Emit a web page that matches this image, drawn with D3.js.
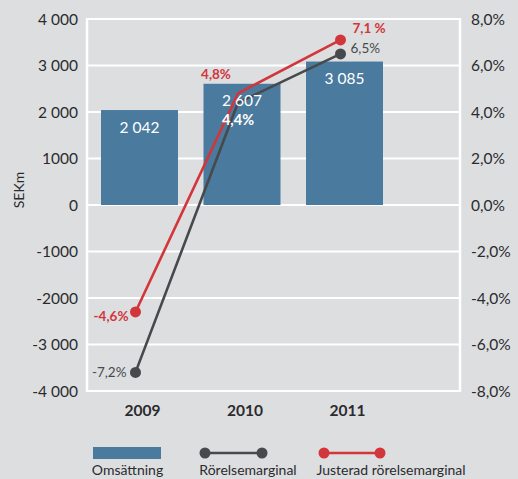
<!DOCTYPE html>
<html><head><meta charset="utf-8">
<script src="https://cdn.jsdelivr.net/npm/d3@7"></script>
<style>
html,body{margin:0;padding:0;background:#dddee0;}
svg{display:block;font-family:Lato, "Open Sans", sans-serif;}
</style></head>
<body>
<svg id="c" width="518" height="479"></svg>
<script>
const years = ["2009","2010","2011"];
const omsattning = [2042, 2607, 3085];
const omsLabels = ["2 042","2 607","3 085"];
const rorelse = [-7.2, 4.4, 6.5];
const rorelseLabels = ["-7,2%","4,4%","6,5%"];
const justerad = [-4.6, 4.8, 7.1];
const justeradLabels = ["-4,6%","4,8%","7,1 %"];
const leftTicks = [4000,3000,2000,1000,0,-1000,-2000,-3000,-4000];
const leftTickLabels = ["4 000","3 000","2 000","1000","0","-1000","-2000","-3 000","-4 000"];
const rightTicks = [8,6,4,2,0,-2,-4,-6,-8];
const rightTickLabels = ["8,0%","6,0%","4,0%","2,0%","0,0%","-2,0%","-4,0%","-6,0%","-8,0%"];
const legendItems = ["Omsättning","Rörelsemarginal","Justerad rörelsemarginal"];

const blue="#4a7a9e", gray="#48494d", red="#d2363b", txt="#2b2b2e";
const svg=d3.select("#c");
const L=87,R=460,T=19,B=391;
const y=d3.scaleLinear().domain([-4000,4000]).range([B,T]);
const y2=d3.scaleLinear().domain([-8,8]).range([B,T]);
const x=d3.scaleBand().domain(years).range([L,397]).paddingInner(0.249).paddingOuter(0.1366);
const cx=d=>x(d)+x.bandwidth()/2;

// grid
const g=svg.append("g");
g.selectAll("line.h").data(leftTicks).join("line")
 .attr("x1",L).attr("x2",R).attr("y1",d=>y(d)).attr("y2",d=>y(d))
 .attr("stroke","#fff").attr("stroke-width",2.2);
g.append("line").attr("x1",L).attr("x2",L).attr("y1",T-1).attr("y2",B+1).attr("stroke","#fff").attr("stroke-width",2.5);
g.append("line").attr("x1",R).attr("x2",R).attr("y1",T-1).attr("y2",B+1).attr("stroke","#fff").attr("stroke-width",2.5);

// axis labels
svg.append("g").selectAll("text").data(leftTicks).join("text")
 .attr("x",78).attr("y",d=>y(d)).attr("dy","0.36em").attr("text-anchor","end")
 .attr("font-size",15.5).attr("fill",txt).text((d,i)=>leftTickLabels[i]);
svg.append("g").selectAll("text").data(rightTicks).join("text")
 .attr("x",471).attr("y",d=>y2(d)).attr("dy","0.36em").attr("text-anchor","start")
 .attr("font-size",15.5).attr("fill",txt).text((d,i)=>rightTickLabels[i]);
svg.append("text").attr("transform","translate(24,"+190+") rotate(-90)")
 .attr("text-anchor","middle").attr("font-size",14).attr("fill",txt).text("SEKm");

// bars
svg.append("g").selectAll("rect").data(omsattning).join("rect")
 .attr("x",(d,i)=>x(years[i])).attr("width",x.bandwidth())
 .attr("y",d=>y(d)).attr("height",d=>y(0)-y(d)).attr("fill",blue);

// x labels
svg.append("g").selectAll("text").data(years).join("text")
 .attr("x",d=>cx(d)+3).attr("y",410).attr("dy","0.36em").attr("text-anchor","middle")
 .attr("font-size",15.5).attr("font-weight","bold").attr("fill",txt).text(d=>d);

// lines
const line=d3.line().x((d,i)=>cx(years[i])-4).y(d=>y2(d));
function series(vals,col){
  svg.append("path").datum(vals).attr("d",line).attr("fill","none").attr("stroke",col).attr("stroke-width",2.6);
  svg.append("g").selectAll("circle").data(vals.map((v,i)=>({v,i})).filter(o=>o.i!==1)).join("circle")
   .attr("cx",o=>cx(years[o.i])-4).attr("cy",o=>y2(o.v)).attr("r",5.5).attr("fill",col);
}
series(rorelse,gray);
series(justerad,red);

// bar labels on top
svg.append("g").selectAll("text").data(omsattning).join("text")
 .attr("x",(d,i)=>cx(years[i])).attr("y",d=>y(d)+17).attr("dy","0.36em")
 .attr("text-anchor","middle").attr("font-size",15.5).attr("fill","#fff").text((d,i)=>omsLabels[i]);

// line labels
const fs=13.5;
svg.append("text").attr("x",cx(years[0])-13).attr("y",y2(rorelse[0])).attr("dy","0.36em").attr("text-anchor","end").attr("font-size",fs).attr("fill",gray).text(rorelseLabels[0]);
svg.append("text").attr("x",cx(years[1])-4).attr("y",y2(rorelse[1])+17).attr("dy","0.36em").attr("text-anchor","middle").attr("font-size",fs+1).attr("font-weight","bold").attr("fill","#fff").text(rorelseLabels[1]);
svg.append("text").attr("x",cx(years[2])+6).attr("y",y2(rorelse[2])-6).attr("dy","0.36em").attr("text-anchor","start").attr("font-size",fs).attr("fill",gray).text(rorelseLabels[2]);
svg.append("text").attr("x",cx(years[0])-11).attr("y",y2(justerad[0])+4).attr("dy","0.36em").attr("text-anchor","end").attr("font-size",fs).attr("font-weight","bold").attr("fill",red).text(justeradLabels[0]);
svg.append("text").attr("x",cx(years[1])-26).attr("y",y2(justerad[1])-19).attr("dy","0.36em").attr("text-anchor","middle").attr("font-size",fs).attr("font-weight","bold").attr("fill",red).text(justeradLabels[1]);
svg.append("text").attr("x",cx(years[2])+8).attr("y",y2(justerad[2])-12).attr("dy","0.36em").attr("text-anchor","start").attr("font-size",fs).attr("font-weight","bold").attr("fill",red).text(justeradLabels[2]);

// legend
const lg=svg.append("g");
lg.append("rect").attr("x",93).attr("y",447).attr("width",68).attr("height",12).attr("fill",blue);
[[205,262,gray],[324,380,red]].forEach(([a,b,c])=>{
  lg.append("line").attr("x1",a).attr("x2",b).attr("y1",453).attr("y2",453).attr("stroke",c).attr("stroke-width",2.6);
  lg.append("circle").attr("cx",a).attr("cy",453).attr("r",5.5).attr("fill",c);
  lg.append("circle").attr("cx",b).attr("cy",453).attr("r",5.5).attr("fill",c);
});
lg.selectAll("text").data(legendItems).join("text")
 .attr("x",(d,i)=>[127.5,248,391][i]).attr("y",475).attr("text-anchor","middle")
 .attr("font-size",14).attr("fill",txt).text(d=>d);
</script>
</body></html>
